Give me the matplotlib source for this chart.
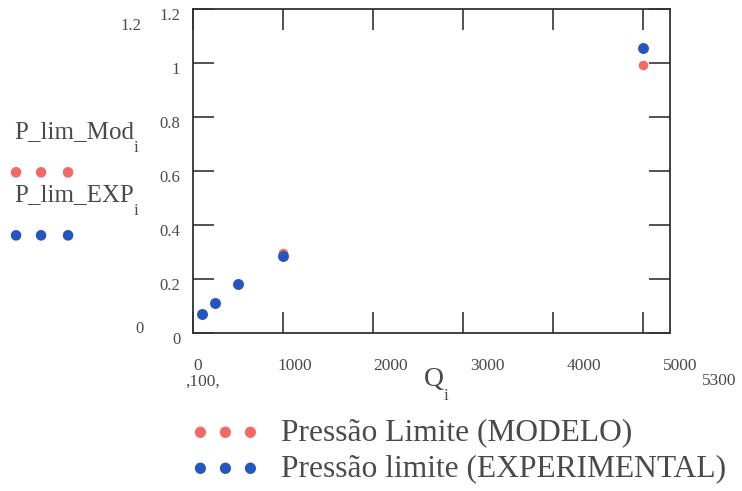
import matplotlib
matplotlib.use("Agg")
import matplotlib.pyplot as plt
from matplotlib.transforms import ScaledTranslation

# vazao Q e pressao limite (modelo x experimental)
Q = [100, 250, 500, 1000, 5000]
P_lim_Mod = [0.070, 0.113, 0.181, 0.298, 0.995]
P_lim_EXP = [0.070, 0.113, 0.181, 0.286, 1.055]
x_ticks = [0, 1000, 2000, 3000, 4000, 5000]
y_ticks = [0, 0.2, 0.4, 0.6, 0.8, 1, 1.2]
y_labels = ["0", "0.2", "0.4", "0.6", "0.8", "1", "1.2"]

red = "#f26a64"
blue = "#2456bd"
txt = "#4a4a4a"
W, H = 742, 491

plt.rcParams['font.family'] = ['Liberation Serif', 'DejaVu Serif']

fig = plt.figure(figsize=(W / 100, H / 100), dpi=100)
ax = fig.add_axes([0.2597, 0.3212, 0.6433, 0.6598])

ax.scatter(Q, P_lim_Mod, s=48, color=red, zorder=3, linewidths=0)
ax.scatter(Q, P_lim_EXP, s=62, color=blue, zorder=4, linewidths=0)

ax.set_xlim(0, 5300)
ax.set_ylim(0, 1.2)
ax.set_xticks(x_ticks)
ax.set_xticklabels([])
ax.set_yticks(y_ticks)
ax.set_yticklabels(y_labels)
ax.tick_params(direction='in', length=15, width=1.2, colors='#333333',
               top=True, right=True, labelsize=12, labelcolor=txt, pad=9)
for lab in ax.get_yticklabels():
    lab.set_transform(lab.get_transform() + ScaledTranslation(0, -5 / 100, fig.dpi_scale_trans))
for s in ax.spines.values():
    s.set_linewidth(1.3)
    s.set_color('#333333')


def ftext(x, y, s, **kw):
    return fig.text(x / W, 1 - y / H, s, **kw)


# rotulos do eixo x (espacamento do Mathcad um pouco maior que os ticks)
for v in x_ticks:
    ftext(198 + v * 0.0964, 366, str(v), fontsize=12.5, color=txt, ha='center', va='center')

# limites e rotulos no estilo Mathcad
ftext(131, 26, "1.2", fontsize=12, color=txt, ha='center', va='center')
ftext(139, 329, "0", fontsize=12, color=txt, ha='center', va='center')
ftext(203, 382, ",100,", fontsize=12.5, color=txt, ha='center', va='center')
ftext(719, 381, "5300", fontsize=12.5, color=txt, ha='center', va='center')


def sub_label(x, y, s, size, sub_size):
    # y = linha de base; o indice "i" fica logo abaixo dela (estilo Mathcad)
    t = ftext(x, y, s, fontsize=size, color=txt, ha='left', va='baseline')
    ax.annotate("i", xy=(1, H - y - 2), xycoords=(t, 'figure pixels'),
                xytext=(0, 0), textcoords='offset points',
                fontsize=sub_size, color=txt, ha='left', va='top', annotation_clip=False)


sub_label(424, 386, "Q", 20, 12)
sub_label(14, 138, "P_lim_Mod", 18, 12)
sub_label(14, 201, "P_lim_EXP", 18, 12)

for xd in [15, 40, 67]:
    ftext(xd, 171, "\u25cf", fontsize=10, color=red, ha='center', va='center', family='DejaVu Sans')
    ftext(xd, 234, "\u25cf", fontsize=10, color=blue, ha='center', va='center', family='DejaVu Sans')

# legenda
for xd in [200, 225, 250]:
    ftext(xd, 432, "\u25cf", fontsize=10.5, color=red, ha='center', va='center', family='DejaVu Sans')
    ftext(xd, 468, "\u25cf", fontsize=10.5, color=blue, ha='center', va='center', family='DejaVu Sans')
ftext(281, 433, "Pressão Limite (MODELO)", fontsize=22.7, color=txt, ha='left', va='center')
ftext(281, 469, "Pressão limite (EXPERIMENTAL)", fontsize=22.7, color=txt, ha='left', va='center')

fig.savefig("out.png", dpi=100)
